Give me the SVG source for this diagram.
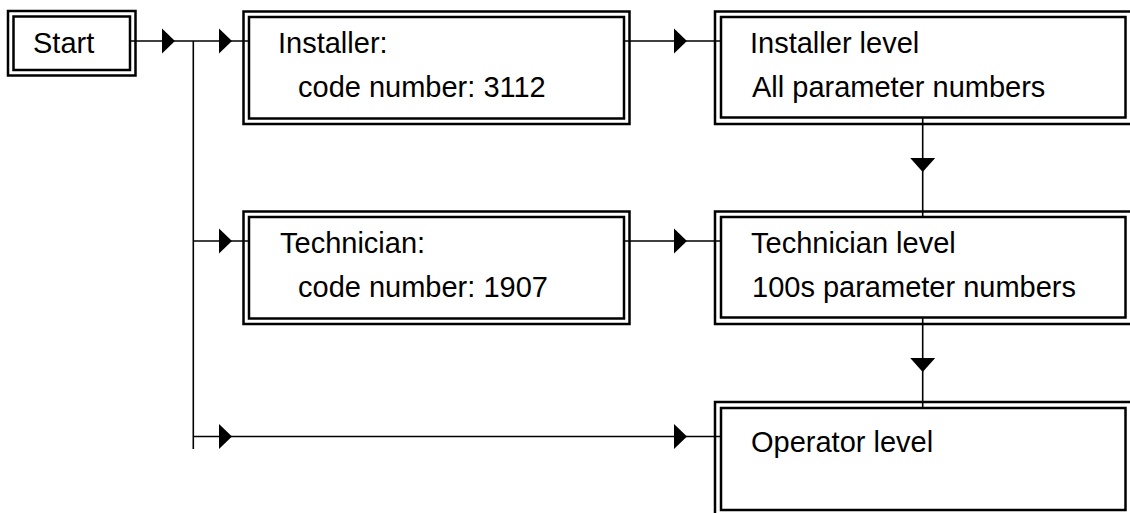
<svg xmlns="http://www.w3.org/2000/svg" width="1130" height="513" viewBox="0 0 1130 513">
<style>
.o{fill:#fff;stroke:#000;stroke-width:2.5}
.i{fill:none;stroke:#000;stroke-width:2.5}
.c{fill:none;stroke:#000;stroke-width:1.6}
.t{font-family:"Liberation Sans",Arial,sans-serif;font-size:29px;fill:#000}
.a{fill:#000;stroke:none}
</style>
<defs>
<path id="ar" d="M0,0 L-13,-12.5 L-13,12.5 Z"/>
<path id="ad" d="M0,0 L-12.5,-14 L12.5,-14 Z"/>
</defs>
<rect width="1130" height="513" fill="#fff"/>
<g id="start">
<rect class="o" x="8" y="11" width="127.5" height="64.5"/>
<rect class="i" x="13.5" y="16.5" width="116.5" height="53.5"/>
<text class="t" x="33" y="53">Start</text>
</g>
<g id="installer">
<rect class="o" x="243.5" y="11.5" width="386" height="112.5"/>
<rect class="i" x="249" y="17" width="375" height="101.5"/>
<text class="t" x="278" y="53">Installer:</text>
<text class="t" x="298" y="97">code number: 3112</text>
</g>
<g id="technician">
<rect class="o" x="243.5" y="211.5" width="386" height="112.5"/>
<rect class="i" x="249" y="217" width="375" height="101.5"/>
<text class="t" x="280" y="253">Technician:</text>
<text class="t" x="298" y="297">code number: 1907</text>
</g>
<g id="installer-level">
<rect class="o" x="715" y="11.5" width="420" height="112.5"/>
<rect class="i" x="721" y="17" width="404.5" height="100.5"/>
<text class="t" x="750" y="53">Installer level</text>
<text class="t" x="752" y="97">All parameter numbers</text>
</g>
<g id="technician-level">
<rect class="o" x="715" y="211.5" width="420" height="112.5"/>
<rect class="i" x="721" y="217" width="404.5" height="100.5"/>
<text class="t" x="751" y="253">Technician level</text>
<text class="t" x="752" y="297">100s parameter numbers</text>
</g>
<g id="operator-level">
<rect class="o" x="715" y="402" width="420" height="120"/>
<rect class="i" x="721" y="408" width="404.5" height="102"/>
<text class="t" x="751" y="452">Operator level</text>
</g>
<g id="connectors">
<line class="c" x1="131" y1="41" x2="249" y2="41"/>
<line class="c" x1="193.3" y1="41" x2="193.3" y2="449"/>
<line class="c" x1="624" y1="41" x2="721" y2="41"/>
<line class="c" x1="193.3" y1="241" x2="249" y2="241"/>
<line class="c" x1="624" y1="241" x2="721" y2="241"/>
<line class="c" x1="193.3" y1="436.5" x2="721" y2="436.5"/>
<line class="c" x1="922.7" y1="117" x2="922.7" y2="217"/>
<line class="c" x1="922.7" y1="318" x2="922.7" y2="408"/>
<use href="#ar" class="a" x="175" y="41"/>
<use href="#ar" class="a" x="232" y="41"/>
<use href="#ar" class="a" x="687" y="41"/>
<use href="#ar" class="a" x="232" y="241"/>
<use href="#ar" class="a" x="687" y="241"/>
<use href="#ar" class="a" x="232" y="436.5"/>
<use href="#ar" class="a" x="687" y="436.5"/>
<use href="#ad" class="a" x="922.7" y="172"/>
<use href="#ad" class="a" x="922.7" y="372"/>
</g>
</svg>
